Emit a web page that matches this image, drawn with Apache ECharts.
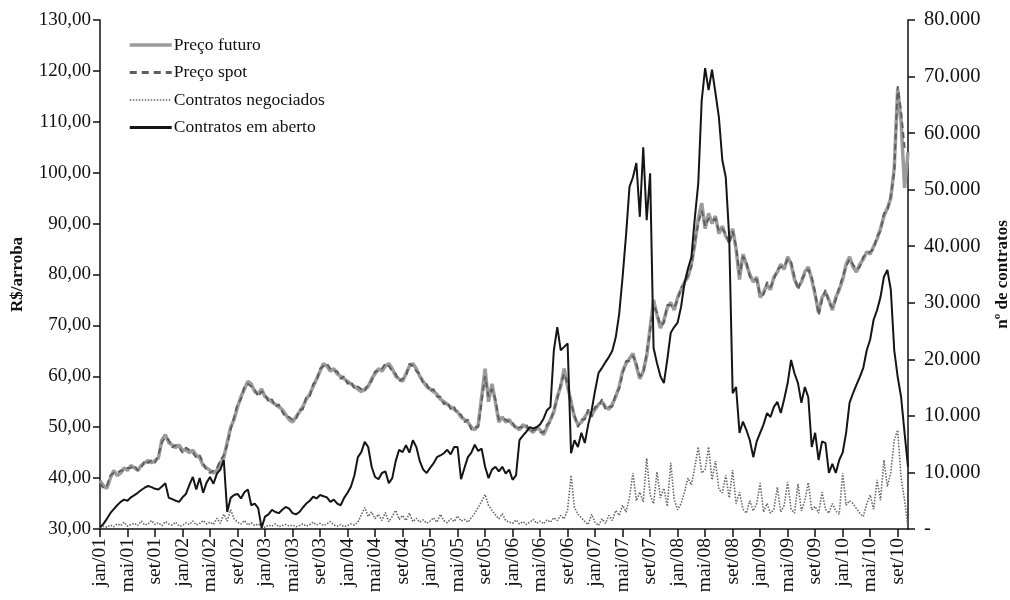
<!DOCTYPE html>
<html>
<head>
<meta charset="utf-8">
<script src="https://cdn.jsdelivr.net/npm/echarts@6/dist/echarts.min.js"></script>
<style>
  html, body { margin: 0; padding: 0; background: #fff; }
  #main { width: 1010px; height: 600px; }
</style>
</head>
<body>
<div id="main"></div>
<script>
// meses (rótulos do eixo x)
var mesesNomes = ['jan', 'fev', 'mar', 'abr', 'mai', 'jun', 'jul', 'ago', 'set', 'out', 'nov', 'dez'];
var rotulosDireita = ['-', '10.000', '10.000', '20.000', '30.000', '40.000', '50.000', '60.000', '70.000', '80.000'];

// valores quinzenais, jan/01 até nov/10
var precoFuturo = [
  39.5, 38.5, 38.0, 40.0, 41.5, 40.5, 41.0, 42.0, 41.5, 42.5, 42.0, 41.5, 42.5, 43.0, 43.5, 43.0, 43.5, 44.0, 47.5, 48.5, 47.0, 46.5, 46.0, 46.5,
  45.5, 45.5, 45.0, 45.5, 44.5, 44.0, 42.5, 42.0, 41.5, 41.0, 41.5, 43.0, 44.0, 47.0, 50.0, 51.5, 54.0, 56.0, 57.5, 59.0, 58.5, 57.0, 56.5, 57.5,
  56.0, 55.5, 55.0, 54.5, 54.0, 53.5, 52.5, 51.5, 51.0, 52.0, 53.0, 54.0, 55.5, 56.5, 58.0, 59.5, 61.0, 62.5, 62.0, 61.0, 61.5, 60.5, 60.0, 59.5,
  59.0, 58.5, 58.0, 57.5, 57.0, 57.5, 58.0, 59.5, 60.5, 61.5, 61.0, 62.0, 62.5, 61.5, 60.0, 59.5, 59.0, 60.5, 62.0, 62.5, 61.5, 60.0, 59.0, 58.0,
  57.5, 57.0, 56.5, 55.5, 55.0, 54.5, 54.0, 53.5, 53.0, 52.0, 51.5, 51.0, 50.0, 49.5, 50.5, 56.0, 61.5, 55.0, 58.5, 55.0, 51.0, 52.0, 51.0, 51.5,
  50.5, 50.0, 49.5, 50.5, 50.0, 49.5, 49.0, 50.0, 49.5, 48.5, 50.0, 51.5, 53.0, 56.0, 58.0, 61.5, 58.0, 55.0, 52.0, 50.5, 51.0, 52.0, 53.0, 52.5,
  53.5, 54.5, 55.0, 54.0, 53.5, 54.5, 56.0, 58.0, 61.0, 62.5, 63.5, 64.5, 62.0, 59.5, 61.0, 64.0, 69.5, 75.0, 72.0, 69.5, 71.0, 73.5, 74.5, 73.0,
  75.5, 77.0, 78.5, 79.5, 82.0, 86.0, 91.0, 94.0, 89.0, 92.0, 90.0, 91.5, 88.0, 89.5, 87.5, 86.5, 89.0, 85.0, 79.0, 84.0, 82.0, 80.0, 78.5, 79.5,
  75.5, 76.5, 78.0, 77.0, 79.5, 80.5, 82.0, 81.0, 83.5, 82.0, 79.0, 77.5, 78.5, 80.5, 81.5, 79.0, 76.0, 72.5, 75.5, 76.5, 75.0, 73.0, 75.5, 77.0,
  79.0, 82.0, 83.5, 81.5, 80.5, 82.0, 83.0, 84.5, 84.0, 85.5, 87.0, 89.0, 91.5, 93.0, 95.0, 101.0, 116.5, 110.0, 97.0, 104.0
];
var precoSpot = [
  39.0, 38.0, 38.5, 40.5, 41.0, 41.0, 41.5, 41.5, 42.0, 42.0, 42.5, 41.5, 42.0, 43.5, 43.0, 43.5, 43.0, 44.5, 47.0, 48.0, 47.5, 46.0, 46.5, 46.0,
  45.0, 46.0, 45.5, 45.0, 44.0, 44.5, 43.0, 41.5, 41.0, 41.5, 42.0, 43.5, 44.5, 46.5, 49.5, 52.0, 54.5, 55.5, 58.0, 58.5, 58.0, 57.5, 56.0, 57.0,
  56.5, 55.0, 55.5, 54.0, 54.5, 53.0, 52.0, 52.0, 51.5, 51.5, 53.5, 53.5, 56.0, 56.0, 58.5, 59.0, 61.5, 62.0, 62.5, 61.5, 61.0, 61.0, 59.5, 60.0,
  58.5, 59.0, 57.5, 58.0, 57.5, 57.0, 58.5, 59.0, 61.0, 61.0, 61.5, 62.5, 62.0, 61.0, 60.5, 59.0, 59.5, 60.0, 62.5, 62.0, 61.0, 60.5, 58.5, 58.5,
  57.0, 57.5, 56.0, 56.0, 54.5, 55.0, 53.5, 54.0, 52.5, 52.5, 51.0, 51.5, 49.5, 50.0, 50.0, 55.0, 60.0, 56.0, 57.5, 55.5, 51.5, 51.5, 51.5, 51.0,
  51.0, 49.5, 50.0, 50.0, 50.5, 49.0, 49.5, 49.5, 49.0, 49.0, 50.5, 51.0, 53.5, 55.5, 58.5, 60.5, 58.5, 54.5, 52.5, 50.0, 51.5, 51.5, 53.5, 52.0,
  54.0, 54.0, 55.5, 53.5, 54.0, 54.0, 56.5, 57.5, 60.5, 63.0, 63.0, 64.0, 62.5, 60.0, 60.5, 64.5, 69.0, 74.0, 72.5, 70.0, 70.5, 74.0, 74.0, 73.5,
  75.0, 77.5, 78.0, 80.0, 81.5, 86.5, 90.0, 92.5, 89.5, 91.0, 90.5, 91.0, 88.5, 89.0, 88.0, 86.0, 88.5, 85.5, 80.0, 83.5, 82.5, 79.5, 79.0, 79.0,
  76.0, 76.0, 78.5, 77.5, 79.0, 81.0, 81.5, 81.5, 83.0, 82.5, 79.5, 77.0, 79.0, 80.0, 81.0, 79.5, 76.5, 72.0, 75.0, 77.0, 74.5, 73.5, 75.0, 77.5,
  79.5, 81.5, 83.0, 82.0, 81.0, 81.5, 83.5, 84.0, 84.5, 85.0, 87.5, 88.5, 92.0, 92.5, 95.5, 100.0, 117.0, 112.0, 105.0, 105.5
];
var contratosNegociados = [
  200, 500, 300, 700, 400, 900, 600, 1200, 500, 800, 1000, 600, 1400, 700, 900, 1500, 800, 1100, 600, 1300, 900, 700, 1200, 500,
  600, 1100, 800, 1400, 700, 1000, 1500, 900, 1200, 800, 1900, 1000, 2600, 1400, 3400, 1800, 1200, 900, 1500, 700, 1100, 600, 900, 500,
  300, 700, 500, 900, 400, 600, 800, 500, 700, 400, 600, 900, 500, 800, 1200, 700, 1000, 600, 900, 1300, 700, 500, 800, 400,
  600, 900, 700, 1200, 2500, 3800, 2200, 3000, 1800, 2600, 1500, 2900, 1300, 2200, 3300, 1700, 2400, 1500, 2800, 1300, 1900, 1200, 1600, 1000,
  1400, 2000, 1200, 2600, 1500, 1100, 1800, 1300, 2300, 1400, 1700, 1200, 2000, 2800, 3800, 4900, 6100, 4200, 3300, 2500, 1800, 2700, 1500, 1200,
  1000, 1600, 900, 1300, 800, 1200, 1700, 1000, 1400, 900, 1600, 1200, 2000, 1500, 2400, 1800, 3400, 9500, 3800, 2600, 2000, 1300, 800, 2600,
  1200, 600, 1800, 1000, 2400, 1500, 3300, 2400, 4200, 3000, 5600, 9900, 5000, 6500, 4800, 12500, 6000, 4500, 10100, 5500, 7200, 4000, 11700, 5200,
  3400, 4500, 6500, 9000, 7800, 11000, 14500, 9900, 10500, 14500, 8700, 12000, 7000, 6400, 9500, 5500, 10400, 4500, 6500, 3500, 2800, 5000, 3200, 4500,
  8100, 3000, 4500, 2800, 3500, 7400, 3000, 4200, 8300, 3500, 2800, 8000, 3200, 5000, 8200, 3400, 4000, 2800, 6500, 3500, 2800, 4500, 3200, 2600,
  9900, 4200, 5000, 4500, 3600, 2800, 2200, 4500, 6000, 3500, 8700, 5100, 12200, 7500, 10000, 15700, 17500, 9000, 5100, 300
];
var contratosAberto = [
  300, 900, 1800, 2800, 3500, 4200, 4800, 5200, 5000, 5600, 6000, 6400, 6900, 7300, 7600, 7400, 7100, 7000, 7500, 8100, 5500, 5300, 5000, 4800,
  5600, 6200, 7800, 9200, 7000, 9000, 6400, 8200, 9200, 8000, 9800, 10500, 12200, 3000, 5500, 6000, 6200, 5400, 6500, 7000, 4200, 4500, 3700, 200,
  2200, 2600, 3400, 3000, 2800, 3400, 3900, 3600, 2800, 2600, 3000, 3800, 4500, 5000, 5700, 5400, 6000, 5800, 5600, 4800, 5200, 4500, 4200, 5500,
  6400, 7500, 9500, 12700, 13600, 15400, 14500, 11000, 9200, 8800, 9900, 10200, 8100, 9000, 12000, 14000, 13600, 14800, 13500, 15700, 14500, 12000, 10500, 9900,
  10800, 11600, 12700, 13000, 13400, 14000, 13200, 14500, 14500, 8800, 10800, 12700, 13500, 14900, 13800, 14200, 11000, 9000, 10500, 11000, 10200, 11000, 9800, 10500,
  8700, 9500, 15700, 16500, 17200, 18000, 17800, 18000, 18500, 19500, 21000, 21600, 31600, 35700, 31600, 32200, 32800, 13400, 15700, 14500, 17000, 15200, 18500, 21000,
  24500, 27600, 28500, 29500, 30400, 31500, 33900, 38000, 44600, 52000, 60500, 62200, 64700, 55200, 67500, 54600, 62900, 32000, 29300, 27000, 25800, 30000, 34700, 35700,
  36500, 39300, 43500, 46000, 48100, 55000, 61100, 75800, 81500, 77600, 81200, 77100, 72800, 65200, 62200, 51600, 24000, 25100, 17000, 19000, 17500, 15700, 12700, 15500,
  17000, 18500, 20500, 19800, 21600, 22500, 20500, 23000, 25800, 29900, 27500, 25800, 22300, 25100, 23300, 14500, 17000, 12200, 15500, 15200, 9900, 11500, 9900, 12200,
  13500, 17000, 22300, 24000, 25500, 26900, 28500, 31600, 33500, 37000, 38700, 41000, 44600, 45800, 42300, 31600, 26900, 23300, 17000, 11000
];

var categorias = [];
for (var i = 0; i < precoFuturo.length; i++) {
  var m = Math.floor(i / 2);
  var ano = 1 + Math.floor(m / 12);
  categorias.push(mesesNomes[m % 12] + '/' + (ano < 10 ? '0' + ano : ano));
}

var fonte = 'Liberation Serif';
var myChart = echarts.init(document.getElementById('main'));
var option = {
  animation: false,
  textStyle: { fontFamily: fonte, color: '#111' },
  grid: { left: 100, right: 102, top: 20, bottom: 71, outerBoundsMode: 'none', containLabel: false },
  legend: {
    orient: 'vertical',
    left: 128,
    top: 36,
    padding: 0,
    itemWidth: 42,
    itemHeight: 10,
    itemGap: 9.5,
    itemStyle: { opacity: 0 },
    textStyle: { fontFamily: fonte, fontSize: 17.5, color: '#111', padding: [0, 0, 0, -3] },
    data: [
      { name: 'Preço futuro', lineStyle: { width: 3.5, color: '#9b9b9b' } },
      { name: 'Preço spot', lineStyle: { width: 3, color: '#5e5e5e', type: [7, 5] } },
      { name: 'Contratos negociados', lineStyle: { width: 1.5, color: '#666', type: [1.5, 1.5] } },
      { name: 'Contratos em aberto', lineStyle: { width: 3, color: '#151515' } }
    ]
  },
  xAxis: {
    type: 'category',
    data: categorias,
    boundaryGap: false,
    axisLine: { lineStyle: { color: '#111', width: 1.5 } },
    axisTick: {
      inside: false, length: 8,
      interval: function (idx) { return idx % 8 === 0; },
      lineStyle: { color: '#111', width: 1.5 }
    },
    axisLabel: {
      interval: function (idx) { return idx % 8 === 0; },
      rotate: 90,
      margin: 9,
      fontFamily: fonte,
      fontSize: 19.5,
      color: '#111'
    }
  },
  yAxis: [
    {
      type: 'value',
      min: 30, max: 130, interval: 10,
      name: 'R$/arroba',
      nameLocation: 'middle',
      nameRotate: 90,
      nameGap: 74,
      nameTextStyle: { fontFamily: fonte, fontWeight: 'bold', fontSize: 17, color: '#111' },
      splitLine: { show: false },
      axisLine: { show: true, lineStyle: { color: '#111', width: 1.5 } },
      axisTick: { show: true, length: 7, lineStyle: { color: '#111', width: 1.5 } },
      axisLabel: {
        fontFamily: fonte, fontSize: 19, color: '#111', margin: 9,
        formatter: function (v) { return v.toFixed(2).replace('.', ','); }
      }
    },
    {
      type: 'value',
      position: 'right',
      min: 0, max: 90000, interval: 10000,
      name: 'nº de contratos',
      nameLocation: 'middle',
      nameRotate: 90,
      nameGap: 86,
      nameTextStyle: { fontFamily: fonte, fontWeight: 'bold', fontSize: 17, color: '#111' },
      splitLine: { show: false },
      axisLine: { show: true, lineStyle: { color: '#111', width: 1.5 } },
      axisTick: { show: true, length: 7, lineStyle: { color: '#111', width: 1.5 } },
      axisLabel: {
        fontFamily: fonte, fontSize: 20.5, color: '#111', margin: 16,
        formatter: function (v) { return rotulosDireita[Math.round(v / 10000)]; }
      }
    }
  ],
  series: [
    {
      name: 'Preço futuro', type: 'line', yAxisIndex: 0, data: precoFuturo,
      symbol: 'none', z: 3,
      lineStyle: { color: '#9b9b9b', width: 3.5 },
      itemStyle: { color: '#9b9b9b' }
    },
    {
      name: 'Preço spot', type: 'line', yAxisIndex: 0, data: precoSpot,
      symbol: 'none', z: 4,
      lineStyle: { color: '#5e5e5e', width: 2, type: [6, 4] },
      itemStyle: { color: '#5e5e5e' }
    },
    {
      name: 'Contratos negociados', type: 'line', yAxisIndex: 1, data: contratosNegociados,
      symbol: 'none', z: 2,
      lineStyle: { color: '#666', width: 1.6, type: [1.5, 1.5] },
      itemStyle: { color: '#666' }
    },
    {
      name: 'Contratos em aberto', type: 'line', yAxisIndex: 1, data: contratosAberto,
      symbol: 'none', z: 5,
      lineStyle: { color: '#151515', width: 2 },
      itemStyle: { color: '#151515' }
    }
  ]
};
myChart.setOption(option);
</script>
</body>
</html>
